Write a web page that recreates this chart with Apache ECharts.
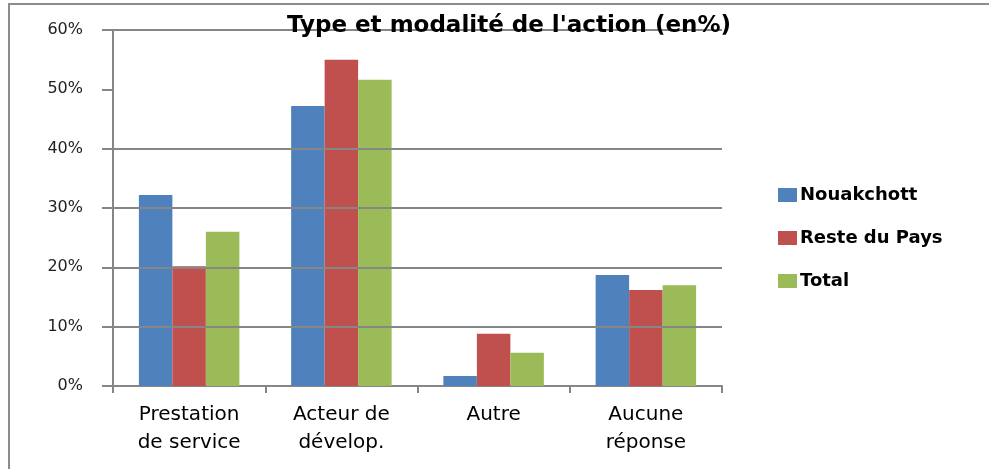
<!DOCTYPE html>
<html>
<head>
<meta charset="utf-8">
<script src="https://cdn.jsdelivr.net/npm/echarts@6/dist/echarts.min.js"></script>
<style>
  html, body { margin: 0; padding: 0; background: #fff; }
  #chart { width: 989px; height: 469px; }
</style>
</head>
<body>
<div id="chart"></div>
<script>
// données
var categories = ["Prestation\nde service", "Acteur de\ndévelop.", "Autre", "Aucune\nréponse"];
var nouakchott = [32.2, 47.2, 1.7, 18.7];
var resteDuPays = [20.2, 55.0, 8.8, 16.2];
var total = [26.0, 51.6, 5.6, 17.0];
var yTicks = [0, 10, 20, 30, 40, 50, 60];
// lignes de grille visibles (celle des 50% manque sur l'original)
var gridLines = [10, 20, 30, 40, 60];

var gris = "#868686";

var option = {
  animation: false,
  title: {
    text: "Type et modalité de l'action (en%)",
    left: 504,
    textAlign: "center",
    top: 10,
    textStyle: {
      fontFamily: "DejaVu Sans",
      fontSize: 23,
      fontWeight: "bold",
      color: "#000"
    }
  },
  graphic: [
    { // cadre du graphique (bord gauche et haut)
      type: "rect",
      shape: { x: 9, y: 4, width: 1200, height: 800 },
      style: { fill: "none", stroke: "#8c8c8c", lineWidth: 2 },
      silent: true
    }
  ],
  legend: {
    orient: "vertical",
    left: 773,
    top: 181,
    itemWidth: 19,
    itemHeight: 14,
    itemGap: 25,
    icon: "rect",
    textStyle: {
      fontFamily: "DejaVu Sans",
      fontSize: 18,
      fontWeight: "bold",
      color: "#000",
      padding: [0, 0, 0, -2]
    },
    data: ["Nouakchott", "Reste du Pays", "Total"]
  },
  grid: {
    left: 113,
    right: 267,
    top: 30,
    bottom: 83
  },
  xAxis: {
    type: "category",
    data: categories,
    axisLine: { lineStyle: { color: gris, width: 2 } },
    axisTick: { show: true, length: 7, lineStyle: { color: gris, width: 2 } },
    axisLabel: {
      interval: 0,
      margin: 15,
      lineHeight: 28,
      fontFamily: "DejaVu Sans",
      fontSize: 20,
      color: "#000"
    }
  },
  yAxis: {
    type: "value",
    min: 0,
    max: 60,
    interval: 10,
    axisLine: { show: true, lineStyle: { color: gris, width: 2 } },
    axisTick: { show: true, length: 11, lineStyle: { color: gris, width: 2 } },
    axisLabel: {
      margin: 30,
      fontFamily: "DejaVu Sans",
      fontSize: 16,
      color: "#222",
      formatter: function (v) {
        return yTicks.indexOf(v) >= 0 ? v + "%" : "";
      }
    },
    splitLine: { show: false }
  },
  series: [
    {
      // série vide qui porte seulement les lignes de grille
      name: "grille",
      type: "line",
      z: 1,
      data: [],
      markLine: {
        silent: true,
        symbol: "none",
        label: { show: false },
        lineStyle: { color: gris, width: 2, type: "solid" },
        data: gridLines.map(function (v) { return { yAxis: v }; })
      }
    },
    {
      name: "Nouakchott",
      type: "bar",
      z: 3,
      barGap: "0%",
      barCategoryGap: "34%",
      itemStyle: { color: "#4F81BD" },
      data: nouakchott
    },
    {
      name: "Reste du Pays",
      type: "bar",
      z: 3,
      barGap: "0%",
      barCategoryGap: "34%",
      itemStyle: { color: "#C0504D" },
      data: resteDuPays
    },
    {
      name: "Total",
      type: "bar",
      z: 3,
      barGap: "0%",
      barCategoryGap: "34%",
      itemStyle: { color: "#9BBB59" },
      data: total
    }
  ]
};

var chart = echarts.init(document.getElementById("chart"));
chart.setOption(option);
</script>
</body>
</html>
